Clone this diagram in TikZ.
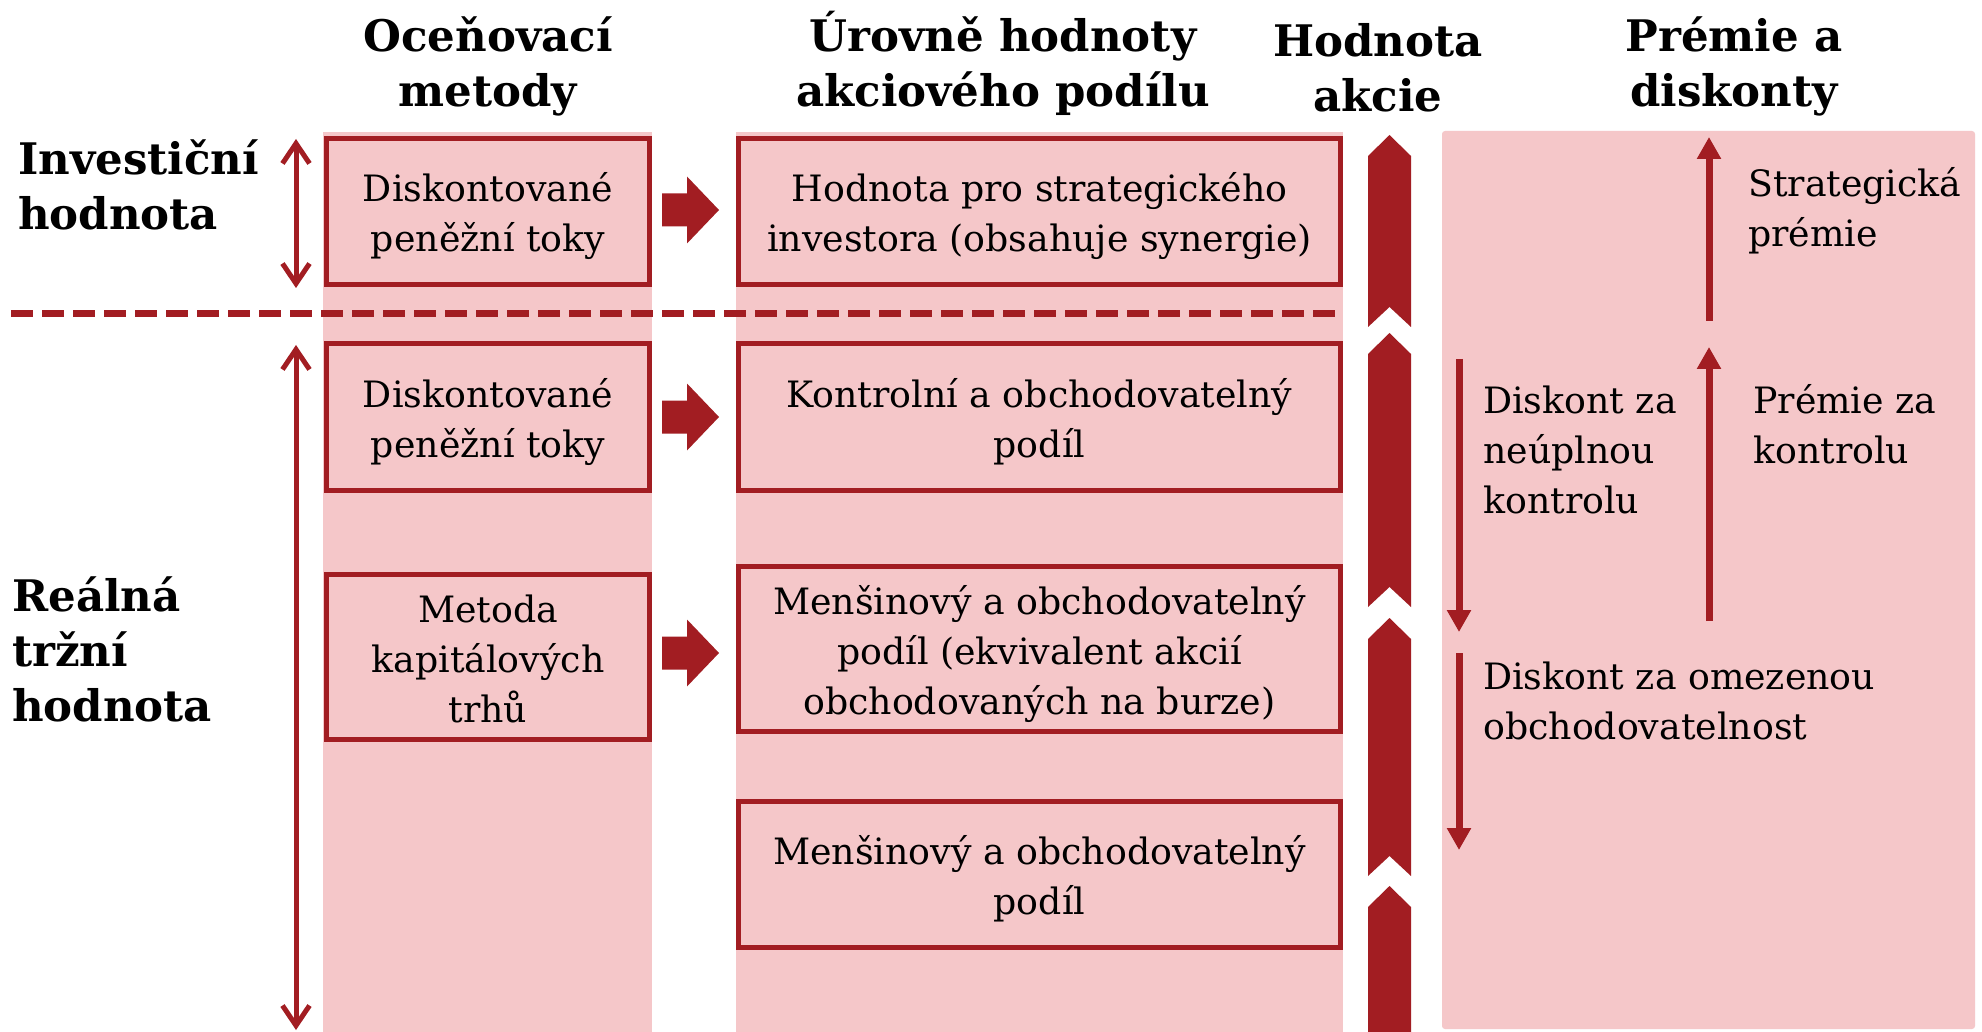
\documentclass[tikz,border=0pt]{standalone}
\usepackage{fontspec}
\setmainfont{DejaVu Serif}
\usetikzlibrary{arrows.meta}
\definecolor{pinkbg}{RGB}{245,199,201}
\definecolor{darkred}{RGB}{162,29,34}
\newcommand\bxtop{\rule{0pt}{41pt}}
\newcommand\bxbot{\rule[-10pt]{0pt}{0pt}}
\begin{document}
\begin{tikzpicture}[x=1pt,y=-1pt,
  colbg/.style={fill=pinkbg, draw=none},
  valbox/.style={draw=darkred, line width=5pt, fill=pinkbg, inner sep=0pt,
    font=\fontsize{36.3}{50}\selectfont, align=center},
  sidetext/.style={font=\fontsize{36.3}{50}\selectfont, align=left, anchor=base west, inner sep=0pt},
  headtext/.style={font=\bfseries\fontsize{43.5}{55}\selectfont, align=center, anchor=base, inner sep=0pt},
  lefttext/.style={font=\bfseries\fontsize{43.5}{55}\selectfont, align=left, anchor=base west, inner sep=0pt},
  blockarrow/.style={fill=darkred},
  chev/.style={fill=darkred},
  pmarrow/.style={draw=darkred, line width=7pt, -{Triangle[length=22pt,width=23pt]}},
  rangearrow/.style={draw=darkred, line width=5pt, line cap=round,
    {Straight Barb[length=20pt,width=27pt]}-{Straight Barb[length=20pt,width=27pt]}},
  sep/.style={draw=darkred, line width=7pt, dash pattern=on 22pt off 9pt},
]
\useasboundingbox (0,0) rectangle (1982,1032);
\fill[white] (0,0) rectangle (1982,1032);

% column backgrounds
\fill[colbg] (323,132) rectangle (652,1032);
\fill[colbg] (736,132) rectangle (1343,1032);
\fill[colbg, rounded corners=3pt] (1442,131) rectangle (1975,1029);

% headers (base = last line)
\node[headtext] (h1) at (488,107) {Oceňovací\\metody};
\node[headtext] (h2) at (1003,107) {Úrovně hodnoty\\akciového podílu};
\node[headtext] (h3) at (1378,112) {Hodnota\\akcie};
\node[headtext] (h4) at (1734,107) {Prémie a\\diskonty};

% left labels
\node[lefttext] (l1) at (18,230) {Investiční\\hodnota};
\node[lefttext] (l2) at (12,721) {Reálná\\tržní\\hodnota};

% range arrows
\coordinate (r1a) at (296,139);
\coordinate (r1b) at (296,288);
\coordinate (r2a) at (296,345);
\coordinate (r2b) at (296,1030);
\draw[rangearrow] (r1a) -- (r1b);
\draw[rangearrow] (r2a) -- (r2b);

% separator
\coordinate (s1) at (11,314);
\coordinate (s2) at (1342,314);
\draw[sep] (s1) -- (s2);

% method boxes
\node[valbox, minimum width=323pt, minimum height=146pt] (m1) at (488,211.5) {\bxtop Diskontované\\peněžní toky\bxbot};
\node[valbox, minimum width=323pt, minimum height=146pt] (m2) at (488,417) {\bxtop Diskontované\\peněžní toky\bxbot};
\node[valbox, minimum width=323pt, minimum height=165pt] (m3) at (488,657) {\bxtop Metoda\\kapitálových\\trhů\bxbot};

% level boxes
\node[valbox, minimum width=602pt, minimum height=146pt] (v1) at (1039.5,211.5) {\bxtop Hodnota pro strategického\\investora (obsahuje synergie)\bxbot};
\node[valbox, minimum width=602pt, minimum height=146pt] (v2) at (1039.5,417) {\bxtop Kontrolní a obchodovatelný\\podíl\bxbot};
\node[valbox, minimum width=602pt, minimum height=165pt] (v3) at (1039.5,648.5) {\bxtop Menšinový a obchodovatelný\\podíl (ekvivalent akcií\\obchodovaných na burze)\bxbot};
\node[valbox, minimum width=602pt, minimum height=146pt] (v4) at (1039.5,874) {\bxtop Menšinový a obchodovatelný\\podíl\bxbot};

% block arrows
\foreach \cy in {210,417,653}{
  \fill[blockarrow] (662,\cy-16.5) -- (687,\cy-16.5) -- (687,\cy-33.5) -- (719,\cy)
    -- (687,\cy+33.5) -- (687,\cy+16.5) -- (662,\cy+16.5) -- cycle;
}

% chevron column
\fill[chev] (1368,156) -- (1389.5,135) -- (1411,156) -- (1411,327) -- (1389.5,307) -- (1368,327) -- cycle;
\fill[chev] (1368,354) -- (1389.5,333) -- (1411,354) -- (1411,607) -- (1389.5,587) -- (1368,607) -- cycle;
\fill[chev] (1368,639) -- (1389.5,618) -- (1411,639) -- (1411,876) -- (1389.5,856) -- (1368,876) -- cycle;
\fill[chev] (1368,907) -- (1389.5,886) -- (1411,907) -- (1411,1032) -- (1368,1032) -- cycle;

% premium / discount arrows
\coordinate (p1a) at (1709,321);
\coordinate (p1b) at (1709,137);
\coordinate (p2a) at (1709,621);
\coordinate (p2b) at (1709,347);
\coordinate (d1a) at (1459,359);
\coordinate (d1b) at (1459,632);
\coordinate (d2a) at (1459,653);
\coordinate (d2b) at (1459,850);
\draw[pmarrow] (p1a) -- (p1b);
\draw[pmarrow] (p2a) -- (p2b);
\draw[pmarrow] (d1a) -- (d1b);
\draw[pmarrow] (d2a) -- (d2b);

\node[sidetext] (t1) at (1748,247) {Strategická\\prémie};
\node[sidetext] (t2) at (1483,513) {Diskont za\\neúplnou\\kontrolu};
\node[sidetext] (t3) at (1753,463) {Prémie za\\kontrolu};
\node[sidetext] (t4) at (1483,739) {Diskont za omezenou\\obchodovatelnost};
\end{tikzpicture}
\end{document}
